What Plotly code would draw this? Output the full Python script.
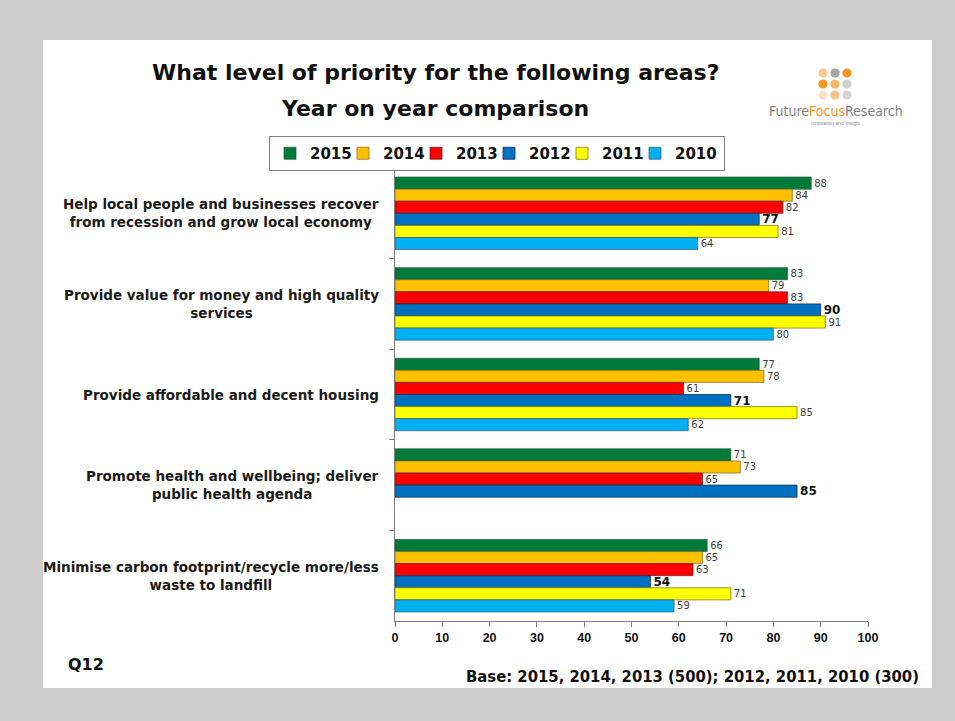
import plotly.graph_objects as go

# Survey areas (top to bottom) and priority scores per year
areas = [
    "Help local people and businesses recover<br>from recession and grow local economy",
    "Provide value for money and high quality<br>services",
    "Provide affordable and decent housing",
    "Promote health and wellbeing; deliver<br>public health agenda",
    "Minimise carbon footprint/recycle more/less<br>waste to landfill",
]
area_keys = ["A1", "A2", "A3", "A4", "A5"]
years = ["2015", "2014", "2013", "2012", "2011", "2010"]
v2015 = [88, 83, 77, 71, 66]
v2014 = [84, 79, 78, 73, 65]
v2013 = [82, 83, 61, 65, 63]
v2012 = [77, 90, 71, 85, 54]
v2011 = [81, 91, 85, None, 71]
v2010 = [64, 80, 62, None, 59]
x_ticks = [0, 10, 20, 30, 40, 50, 60, 70, 80, 90, 100]

series = [v2015, v2014, v2013, v2012, v2011, v2010]
colors = ["#007a3a", "#ffc000", "#ff0000", "#0070c0", "#ffff00", "#00b0f0"]
edges = ["rgba(40,90,50,0.7)", "rgba(120,100,40,0.7)", "rgba(90,30,30,0.7)",
         "rgba(20,50,90,0.8)", "rgba(130,120,20,0.8)", "rgba(60,90,110,0.7)"]

W, H = 955, 721
L, R, T, B = 395, 868, 168, 621


def px(x):
    return (x - L) / (R - L)


def py(y):
    return (B - y) / (B - T)


WIDE = "DejaVu Sans, Verdana, sans-serif"
NARROW = "DejaVu Sans Condensed, DejaVu Sans, sans-serif"
ARIAL = "Arial, Liberation Sans, sans-serif"

fig = go.Figure()
for i, (yr, vals, col, edge) in enumerate(zip(years, series, colors, edges)):
    big = yr == "2012"
    last = i == len(years) - 1
    fig.add_trace(go.Bar(
        name=f"<b>{yr}</b>", orientation="h", y=area_keys, x=vals,
        marker=dict(color=col, line=dict(color=edge, width=1)),
        text=[("" if v is None else (f"<b>{v}</b>" if big else str(v))) for v in vals],
        textposition="outside", cliponaxis=False, constraintext="none",
        textfont=dict(family=WIDE, size=12 if big else 10,
                      color="#111111" if big else "#404040"),
        legendwidth=44 if last else 28,
        hoverinfo="skip",
    ))

shapes = [
    # white slide panel
    dict(type="rect", xref="paper", yref="paper", x0=px(43), x1=px(932),
         y0=py(688), y1=py(40), fillcolor="white", line=dict(width=0), layer="below"),
]

# logo dot grid
dot_cols = [["#f9c894", "#a6a6a6", "#f7941d"],
            ["#f7941d", "#fab565", "#cfcfcf"],
            ["#fde1c4", "#f9c48a", "#d4d4d4"]]
dot_x = [823, 835, 847]
dot_y = [73, 84, 95]
for ri, row in enumerate(dot_cols):
    for ci, c in enumerate(row):
        cx, cy, r = dot_x[ci], dot_y[ri], 4.6
        shapes.append(dict(type="circle", xref="paper", yref="paper",
                           x0=px(cx - r), x1=px(cx + r), y0=py(cy + r), y1=py(cy - r),
                           fillcolor=c, line=dict(width=0)))

annotations = [
    dict(text="<b>What level of priority for the following areas?</b>", x=px(435), y=py(72),
         xref="paper", yref="paper", showarrow=False, xanchor="center", yanchor="middle",
         font=dict(family=WIDE, size=22, color="#111111")),
    dict(text="<b>Year on year comparison</b>", x=px(435), y=py(108),
         xref="paper", yref="paper", showarrow=False, xanchor="center", yanchor="middle",
         font=dict(family=WIDE, size=22, color="#111111")),
    dict(text="Future<span style='color:#f7941d'>Focus</span>Research", x=px(836), y=py(111),
         xref="paper", yref="paper", showarrow=False, xanchor="center", yanchor="middle",
         font=dict(family=NARROW, size=14, color="#7f7f7f")),
    dict(text="Innovation and Insight", x=px(836), y=py(123),
         xref="paper", yref="paper", showarrow=False, xanchor="center", yanchor="middle",
         font=dict(family=ARIAL, size=5, color="#8c8c8c")),
    dict(text="<b>Q12</b>", x=px(66), y=py(664), xref="paper", yref="paper",
         showarrow=False, xanchor="left", yanchor="middle",
         font=dict(family=WIDE, size=16, color="#111111")),
    dict(text="<b>Base: 2015, 2014, 2013 (500); 2012, 2011, 2010 (300)</b>", x=px(921), y=py(676),
         xref="paper", yref="paper", showarrow=False, xanchor="right", yanchor="middle",
         font=dict(family=NARROW, size=16.5, color="#111111")),
]

# category labels, centred block right-aligned against the axis
for key, lab in zip(area_keys, areas):
    annotations.append(dict(text="<b>" + lab + "</b>", x=px(381), y=key, xref="paper", yref="y",
                            showarrow=False, xanchor="right", yanchor="middle", align="center",
                            font=dict(family=WIDE, size=13.5, color="#1a1a1a")))

fig.update_layout(
    width=W, height=H,
    margin=dict(l=L, r=W - R, t=T, b=H - B, pad=0),
    paper_bgcolor="#cccccc", plot_bgcolor="white",
    barmode="group", bargap=0.2, bargroupgap=0,
    showlegend=True,
    legend=dict(orientation="h", x=px(269), y=py(153.5), xanchor="left", yanchor="middle",
                bgcolor="white", bordercolor="#808080", borderwidth=1,
                entrywidthmode="pixels",
                font=dict(family=WIDE, size=15, color="#111111"),
                traceorder="normal", itemclick=False, itemdoubleclick=False),
    xaxis=dict(range=[0, 100], tickvals=x_ticks, ticktext=[f"<b>{t}</b>" for t in x_ticks],
               showgrid=False, zeroline=False, showline=True, linecolor="#7f7f7f", linewidth=1,
               ticks="outside", ticklen=5, tickcolor="#7f7f7f",
               tickfont=dict(family=ARIAL, size=12.5, color="#111111")),
    yaxis=dict(type="category", categoryarray=area_keys, autorange="reversed",
               showticklabels=False, showgrid=False, zeroline=False, showline=True,
               linecolor="#7f7f7f", linewidth=1, ticks="outside", ticklen=5,
               tickcolor="#7f7f7f", tickson="boundaries"),
    shapes=shapes, annotations=annotations,
)

fig.write_html("out.html")
